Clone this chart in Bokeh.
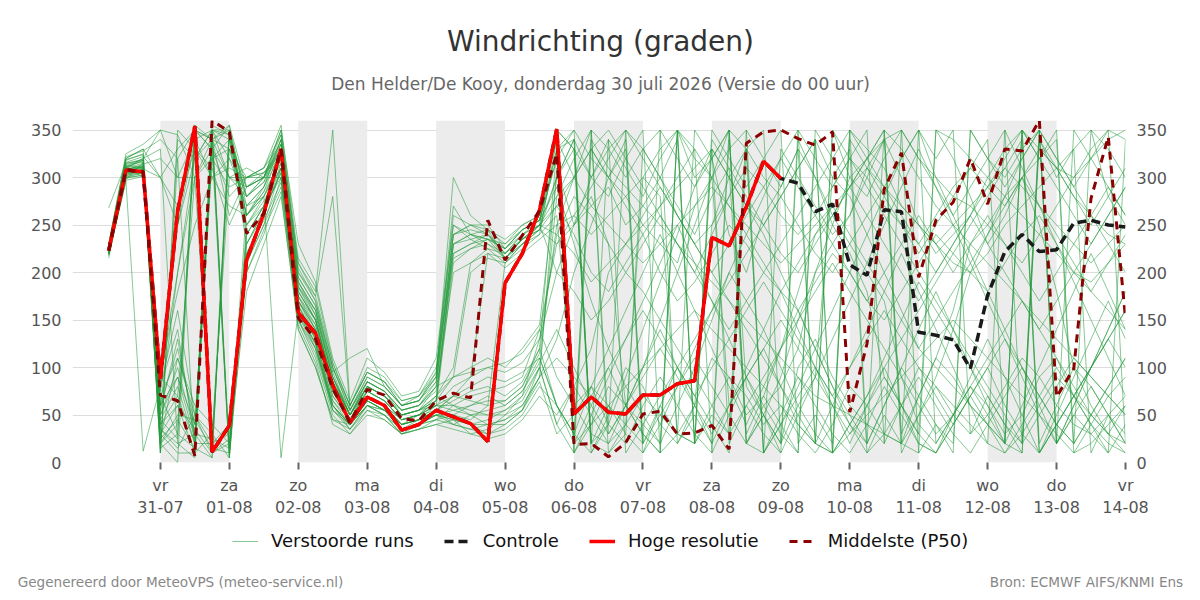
from bokeh.plotting import figure
from bokeh.layouts import column
from bokeh.models import (Range1d, FixedTicker, LinearAxis, Legend, LegendItem, Label)
from bokeh.embed import file_html
from bokeh.resources import INLINE

# ---- time axis (hours after 30-07 00:00, 6-hourly steps) ----
hours = list(range(6, 361, 6))
tick_hours = [24, 48, 72, 96, 120, 144, 168, 192, 216, 240, 264, 288, 312, 336, 360]
tick_labels = ["vr\n31-07", "za\n01-08", "zo\n02-08", "ma\n03-08", "di\n04-08",
               "wo\n05-08", "do\n06-08", "vr\n07-08", "za\n08-08", "zo\n09-08",
               "ma\n10-08", "di\n11-08", "wo\n12-08", "do\n13-08", "vr\n14-08"]
band_starts = [24, 72, 120, 168, 216, 264, 312]
y_ticks = [0, 50, 100, 150, 200, 250, 300, 350]

# ---- deterministic runs ----
hres = [223, 308, 306, 88, 265, 354, 11, 39, 213, 262,
        330, 158, 136, 81, 42, 69, 60, 34, 40, 55,
        48, 41, 22, 189, 220, 266, 351, 51, 69, 53,
        51, 71, 71, 83, 86, 237, 228, 269, 317, 299]
controle = hres + [294, 264, 272, 208, 197, 266, 264, 137, 134, 129,
                   99, 176, 222, 240, 222, 224, 252, 255, 250, 248]
p50 = [223, 308, 306, 71, 65, 7, 360, 348, 241, 262,
       330, 152, 130, 78, 42, 77, 71, 46, 44, 65,
       73, 68, 255, 213, 239, 265, 325, 19, 20, 6,
       21, 51, 54, 30, 31, 39, 14, 336, 348, 350,
       341, 334, 348, 53, 125, 288, 326, 195, 255, 274,
       320, 272, 330, 328, 360, 69, 99, 278, 343, 152]

# ---- perturbed members ----
m01 = [226,305,310,45,80,20,340,355,270,280, 320,170,140,70,45,80,70,50,55,60, 210,225,230,215,235,245,300,340,20,40, 350,330,300,270,240,280,310,20,60,80, 120,200,250,300,320,350,20,70,110,160, 230,250,280,300,320,340,10,40,70,90]
m02 = [222,310,315,30,60,10,350,5,250,270, 330,180,150,80,40,70,60,40,50,70, 60,50,40,45,60,90,310,250,280,230, 60,40,20,350,300,320,240,200,260,290, 330,300,250,220,180,90,60,30,350,320, 280,230,260,300,250,180,100,60,30,20]
m03 = [218,300,305,60,120,40,320,340,260,290, 340,160,120,60,35,60,55,35,40,45, 50,40,30,35,50,80,60,30,10,50, 100,80,40,20,60,110,90,50,70,120, 180,240,260,230,200,170,90,40,20,50, 80,60,30,50,90,110,70,40,20,10]
m04 = [224,312,320,350,300,340,10,20,230,260, 310,190,160,90,50,85,75,55,60,85, 230,240,235,225,245,255,330,350,320,300, 280,250,230,210,270,300,330,350,10,330, 300,270,240,260,310,340,300,250,220,240, 260,300,330,350,20,60,100,80,50,30]
m05 = [228,318,325,20,40,350,330,300,280,300, 350,200,170,100,55,90,80,60,65,90, 240,250,245,230,250,260,340,10,40,80, 60,30,10,350,320,300,60,90,120,80, 40,20,10,350,330,310,270,250,230,210, 200,220,250,270,290,310,330,350,280,250]
m06 = [220,296,12,80,160,50,20,30,210,250, 290,150,110,50,30,55,50,30,35,40, 45,30,25,30,45,70,50,80,120,200, 230,250,270,290,310,330,300,270,240,200, 160,120,80,50,20,350,330,300,270,250, 230,210,190,170,150,130,110,90,70,50]
m07 = [225,306,312,35,20,5,350,340,290,300, 330,175,150,85,50,75,65,45,50,55, 70,80,90,85,95,110,60,30,340,310, 290,270,250,230,210,190,170,150,130,110, 90,70,60,50,40,30,20,10,350,340, 320,300,280,260,240,220,200,180,160,140]
m08 = [230,320,330,300,250,320,340,300,300,310, 345,210,180,350,60,100,90,65,70,100, 220,230,240,220,240,250,350,330,20,10, 40,300,280,30,60,250,300,330,350,20, 60,90,300,280,240,200,160,120,100,80, 60,40,20,350,330,310,300,320,340,350]
m09 = [215,302,308,50,100,30,350,350,240,270, 300,140,100,45,40,60,50,30,40,50, 40,35,30,40,55,100,280,320,350,30, 60,100,150,200,250,300,350,20,50,90, 150,200,230,260,300,340,10,50,90,140, 200,240,280,320,350,20,60,100,140,180]
m10 = [223,308,310,70,30,15,345,10,220,260, 315,165,130,65,45,70,60,45,50,65, 90,200,215,210,225,240,260,60,80,40, 20,60,90,60,30,10,340,80,50,20, 100,130,90,60,40,20,60,100,80,50, 30,50,80,110,90,60,40,30,50,70]
m11 = [221,304,306,90,200,300,330,280,300,310, 335,200,175,280,55,85,75,55,60,75, 200,210,220,205,220,235,250,300,330,350, 320,290,260,230,200,240,280,330,10,40, 80,120,160,200,240,280,320,350,300,260, 220,180,140,100,60,20,350,320,290,260]
m12 = [227,312,300,40,70,300,20,40,200,240, 300,155,125,55,40,65,55,35,45,55, 65,75,80,70,85,120,330,340,300,280, 320,350,10,30,20,330,300,270,250,220, 200,230,260,290,320,340,350,320,300,280, 270,250,230,210,240,270,300,330,350,340]
m13 = [219,298,315,10,350,330,310,250,290,305, 325,185,160,90,50,80,70,50,55,80, 240,250,250,225,245,255,320,20,40,60, 80,100,120,140,160,140,120,100,80,60, 40,20,10,30,50,70,90,110,130,150, 130,110,90,70,50,30,10,20,40,60]
m14 = [226,315,318,25,110,60,40,20,180,230, 280,145,105,40,30,50,45,30,35,40, 35,30,35,50,70,130,200,250,300,340, 10,40,70,100,130,160,190,220,250,280, 310,340,10,40,70,100,130,160,190,220, 250,280,310,340,10,40,70,100,130,160]
m15 = [224,310,320,330,20,30,5,350,280,295, 340,195,165,100,60,95,85,60,65,95, 270,240,230,220,240,250,280,300,270,290, 250,270,300,260,230,250,280,310,290,260, 240,260,290,320,300,270,250,230,260,290, 310,290,270,300,330,310,280,260,240,230]
m16 = [220,300,302,20,50,45,15,10,230,265, 305,150,115,55,35,60,50,35,40,45, 60,70,75,80,90,140,90,60,30,20, 40,70,50,30,20,60,90,70,40,60, 30,10,40,80,60,30,20,50,80,60, 40,20,10,30,60,90,70,50,30,10]
m17 = [229,322,328,340,320,10,30,300,310,300, 350,230,190,110,65,110,95,70,75,110, 250,235,225,210,230,245,270,240,200,180, 210,240,200,170,190,220,250,230,200,180, 160,190,220,200,170,150,180,210,240,220, 200,180,210,240,260,230,200,190,210,230]
m18 = [223,306,304,60,90,25,355,345,250,280, 310,165,135,75,45,70,60,40,45,55, 50,45,60,210,230,240,340,300,350,10, 30,330,300,340,20,50,30,350,320,290, 330,20,350,300,280,320,350,10,40,20, 350,320,300,330,350,20,50,30,10,340]
m19 = [225,309,312,80,140,20,20,350,260,285, 330,175,145,80,45,75,65,45,50,60, 80,90,100,95,105,130,240,280,260,230, 200,180,150,120,90,60,30,60,90,120, 150,180,210,180,150,120,90,60,30,50, 80,110,140,170,140,110,80,50,30,60]
m20 = [221,303,309,300,330,350,340,330,300,305, 320,170,145,85,50,80,70,50,55,65, 230,235,240,215,230,250,300,330,10,40, 90,140,190,240,290,330,20,60,30,10, 340,300,260,290,320,350,30,70,110,90, 60,40,20,10,340,310,280,250,280,310]
m21 = [228,314,316,15,30,340,350,320,270,290, 335,190,160,95,50,80,70,55,60,80, 215,225,235,230,245,255,290,230,170,120, 80,50,20,60,100,150,200,170,140,100, 60,30,10,40,70,110,150,190,160,130, 100,70,40,20,50,80,110,90,70,50]
m22 = [218,297,301,100,260,350,340,260,300,300, 300,160,130,60,40,65,55,40,45,50, 55,60,70,60,75,110,60,20,350,330, 300,330,350,20,50,20,350,330,300,280, 250,220,200,230,260,290,260,230,200,230, 260,290,320,350,10,40,20,350,330,300]
m23 = [226,311,318,50,90,40,330,5,240,270, 325,185,155,90,55,85,75,50,55,70, 100,210,225,220,235,250,270,300,330,300, 270,240,270,300,330,300,270,240,210,180, 210,240,270,240,210,180,150,120,150,180, 210,240,270,300,270,240,210,180,210,240]
m24 = [222,305,306,30,10,10,350,15,210,250, 310,160,125,60,40,60,55,35,40,50, 45,40,45,55,65,100,40,10,50,90, 130,170,210,250,210,170,130,90,50,10, 50,90,130,170,210,250,290,330,290,250, 210,170,130,90,50,20,60,100,140,180]
m25 = [230,325,335,350,345,300,320,290,300,310, 355,215,185,105,60,95,85,65,70,90, 300,260,245,235,250,260,350,10,330,300, 340,20,60,30,350,320,350,30,70,40, 10,340,300,330,10,50,20,350,320,350, 30,70,40,10,340,300,330,10,50,20]
m26 = [224,308,313,40,60,35,10,25,220,255, 295,150,120,60,40,65,55,40,45,60, 60,55,50,50,60,90,130,200,250,300, 330,10,40,80,120,160,200,240,280,320, 350,20,60,100,140,180,220,180,140,100, 60,20,350,310,270,230,190,150,110,70]
m27 = [227,316,322,300,270,330,300,320,290,300, 320,180,150,80,45,75,65,45,50,65, 230,240,245,215,235,245,230,250,270,250, 230,210,230,250,270,290,270,250,230,210, 230,250,270,290,310,290,270,250,230,250, 270,290,310,290,270,250,230,210,230,250]
m28 = [220,299,303,70,110,50,30,5,200,245, 285,140,100,45,35,55,45,30,35,45, 40,35,40,45,55,85,30,50,80,60, 40,20,50,80,110,80,50,20,10,40, 70,100,70,40,10,30,60,90,60,30, 10,40,70,100,70,40,20,50,80,110]
m29 = [225,307,311,20,0,355,340,350,260,285, 315,175,140,75,45,70,60,45,50,60, 70,65,60,65,80,115,250,260,240,260, 280,300,330,350,20,340,310,280,250,280, 310,340,10,340,310,280,250,220,250,280, 310,340,20,350,320,290,260,230,260,290]
m30 = [223,310,318,90,70,20,320,330,280,295, 330,185,150,85,50,80,70,50,55,70, 90,100,110,100,120,145,300,340,20,60, 30,10,60,100,70,40,10,330,10,50, 90,60,30,10,40,80,50,20,10,40, 70,100,60,30,10,40,70,100,130,100]
m31 = [226,313,310,60,200,320,350,300,290,300, 335,195,165,95,110,120,80,60,65,85, 240,245,240,220,235,250,200,180,150,170, 200,230,260,230,200,170,140,170,200,230, 260,290,320,290,260,230,200,170,200,230, 260,230,200,170,140,170,200,230,260,290]
m32 = [219,301,305,35,15,50,10,340,230,265, 305,155,120,55,40,60,50,35,40,50, 50,60,65,65,80,120,60,30,80,120, 160,200,240,200,160,120,80,40,80,120, 160,120,80,40,20,60,100,140,180,140, 100,60,20,60,100,140,180,220,180,140]
m33 = [228,319,324,10,340,320,350,345,280,300, 340,205,170,100,55,90,80,60,65,90, 260,250,240,225,240,255,320,350,20,340, 310,280,320,350,20,350,320,290,320,350, 20,50,20,350,320,290,320,350,20,50, 80,50,20,350,320,350,20,50,80,110]
m34 = [222,304,309,55,130,30,25,15,240,270, 320,170,135,70,45,70,60,40,45,55, 40,50,55,60,75,105,140,100,60,30, 60,90,120,90,60,30,60,90,120,150, 120,90,60,30,60,90,60,30,10,40, 70,40,10,40,70,100,70,40,10,40]
m35 = [225,308,314,320,300,300,340,10,270,290, 325,180,150,85,50,80,70,50,55,65, 220,230,235,215,235,250,240,220,190,210, 230,260,290,260,230,200,230,260,290,320, 290,260,230,200,170,200,230,260,230,200, 230,260,230,200,170,200,230,260,290,260]
m36 = [221,306,308,25,45,15,5,350,250,275, 310,165,130,65,40,65,55,40,45,55, 70,90,220,215,230,245,330,20,60,100, 60,30,10,350,330,10,50,90,60,30, 10,350,320,350,20,60,100,70,40,10, 350,320,290,320,350,20,50,80,50,20]
m37 = [268,315,319,75,250,340,300,310,300,305, 330,190,155,90,50,85,75,55,60,80, 90,95,100,105,115,140,230,260,290,320, 350,320,290,260,230,200,170,140,110,80, 50,20,350,320,290,260,230,200,170,140, 110,80,50,20,350,320,290,260,230,200]
m38 = [224,309,311,45,25,355,15,330,260,280, 320,170,140,75,45,75,65,45,50,60, 55,50,50,55,70,100,40,80,50,20, 60,100,140,100,60,20,60,100,140,180, 140,100,60,20,60,100,60,20,10,50, 90,130,90,50,10,50,90,130,170,130]
m39 = [229,320,330,10,320,350,330,355,290,300, 345,210,175,105,60,95,85,60,70,95, 250,240,235,225,245,255,350,330,300,330, 350,20,350,320,290,320,350,20,50,20, 350,320,290,320,350,20,350,320,290,260, 290,320,350,20,350,320,290,320,350,20]
m40 = [220,302,306,95,180,250,300,270,260,280, 5,160,125,60,40,65,55,40,45,50, 45,40,40,40,55,90,110,90,70,100, 130,160,130,100,70,100,130,160,190,160, 130,100,70,100,130,160,130,100,70,40, 70,100,130,100,70,40,70,100,130,160]

members = [m01, m02, m03, m04, m05, m06, m07, m08, m09, m10,
           m11, m12, m13, m14, m15, m16, m17, m18, m19, m20,
           m21, m22, m23, m24, m25, m26, m27, m28, m29, m30,
           m31, m32, m33, m34, m35, m36, m37, m38, m39, m40]

title_text = "Windrichting (graden)"
subtitle_text = "Den Helder/De Kooy, donderdag 30 juli 2026 (Versie do 00 uur)"
legend_labels = ["Verstoorde runs", "Controle", "Hoge resolutie", "Middelste (P50)"]
footer_texts = ["Gegenereerd door MeteoVPS (meteo-service.nl)", "Bron: ECMWF AIFS/KNMI Ens"]

FONT = "DejaVu Sans"
ENS_STYLE = dict(line_color="#259a3c", line_alpha=0.55, line_width=1)
CTL_STYLE = dict(line_color="#1a1a1a", line_width=3.5, line_dash="9 5")
HRES_STYLE = dict(line_color="#ff0000", line_width=3.5)
P50_STYLE = dict(line_color="#8b0000", line_width=3, line_dash="8 6")


def strip(height, border_bottom=0):
    """Figure used only as a text/legend strip; its frame spans canvas x 72..1125."""
    f = figure(width=1200, height=height, output_backend="svg", toolbar_location=None,
               x_range=Range1d(72, 1125), y_range=Range1d(0, height - border_bottom),
               y_axis_location=None, min_border_left=72, min_border_right=75,
               min_border_top=0, min_border_bottom=border_bottom,
               outline_line_color=None, border_fill_color="white",
               background_fill_color="white")
    f.xgrid.visible = False
    f.ygrid.visible = False
    return f


# ---- header strip: title and subtitle ----
head = strip(110)
head.xaxis.visible = False
head.add_layout(Label(x=600, y=110 - 41, text=title_text, text_align="center",
                      text_baseline="middle", text_font=FONT, text_font_size="28px",
                      text_color="#333333"))
head.add_layout(Label(x=600, y=110 - 83, text=subtitle_text, text_align="center",
                      text_baseline="middle", text_font=FONT, text_font_size="17px",
                      text_color="#666666"))

# ---- main chart ----
p = figure(width=1200, height=410, output_backend="svg", toolbar_location=None,
           title=None, x_range=Range1d(-6.6, 360), y_range=Range1d(0, 360),
           min_border_left=72, min_border_right=75, min_border_top=10,
           min_border_bottom=58, background_fill_color="white",
           border_fill_color="white", outline_line_color=None)

p.quad(left=band_starts, right=[b + 24 for b in band_starts], bottom=0, top=360,
       fill_color="#ececec", line_color=None)
p.multi_line(xs=[hours[:len(m)] for m in members], ys=members, **ENS_STYLE)
p.line(hours[:len(controle)], controle, **CTL_STYLE)
p.line(hours[:len(hres)], hres, **HRES_STYLE)
p.line(hours[:len(p50)], p50, **P50_STYLE)

p.xgrid.grid_line_color = None
p.ygrid.grid_line_color = "#dddddd"
p.ygrid.ticker = FixedTicker(ticks=y_ticks)

xa = p.xaxis[0]
xa.ticker = FixedTicker(ticks=tick_hours)
xa.major_label_overrides = {h: lab for h, lab in zip(tick_hours, tick_labels)}
xa.axis_line_color = None
xa.major_tick_line_color = "#666666"
xa.major_tick_line_width = 2
xa.major_tick_out = 7
xa.major_tick_in = 0
xa.minor_tick_line_color = None
xa.major_label_text_font = FONT
xa.major_label_text_font_size = "16px"
xa.major_label_text_color = "#555555"
xa.major_label_standoff = 6

ya = p.yaxis[0]
ya.ticker = FixedTicker(ticks=y_ticks)
ya_right = LinearAxis(ticker=FixedTicker(ticks=y_ticks))
p.add_layout(ya_right, "right")
for ax in (ya, ya_right):
    ax.axis_line_color = None
    ax.major_tick_line_color = None
    ax.minor_tick_line_color = None
    ax.major_label_text_font = FONT
    ax.major_label_text_font_size = "16px"
    ax.major_label_text_color = "#555555"
    ax.major_label_standoff = 5

# ---- bottom strip: legend (style swatches, drawn off-frame) and footer ----
bot = strip(80, border_bottom=30)
off = dict(x=[-1000, -990], y=[-1000, -1000])
sw = [bot.line(**off, **ENS_STYLE), bot.line(**off, **CTL_STYLE),
      bot.line(**off, **HRES_STYLE), bot.line(**off, **P50_STYLE)]
legend = Legend(items=[LegendItem(label=lab, renderers=[r]) for lab, r in zip(legend_labels, sw)],
                orientation="horizontal", location=(160, 19),
                label_text_font=FONT, label_text_font_size="18px",
                label_text_color="#111111", glyph_width=26, glyph_height=20,
                label_standoff=13, spacing=30, padding=0, margin=0,
                border_line_color=None, background_fill_alpha=0)
bot.add_layout(legend)

foot_pos = [180, 1086]
fa = bot.xaxis[0]
fa.ticker = FixedTicker(ticks=foot_pos)
fa.major_label_overrides = {k: t for k, t in zip(foot_pos, footer_texts)}
fa.axis_line_color = None
fa.major_tick_line_color = None
fa.minor_tick_line_color = None
fa.major_tick_out = 0
fa.major_tick_in = 0
fa.major_label_standoff = 3
fa.major_label_text_font = FONT
fa.major_label_text_font_size = "13.6px"
fa.major_label_text_color = "#888888"

layout = column(head, p, bot, spacing=0)
open("out.html", "w").write(file_html(layout, INLINE))
